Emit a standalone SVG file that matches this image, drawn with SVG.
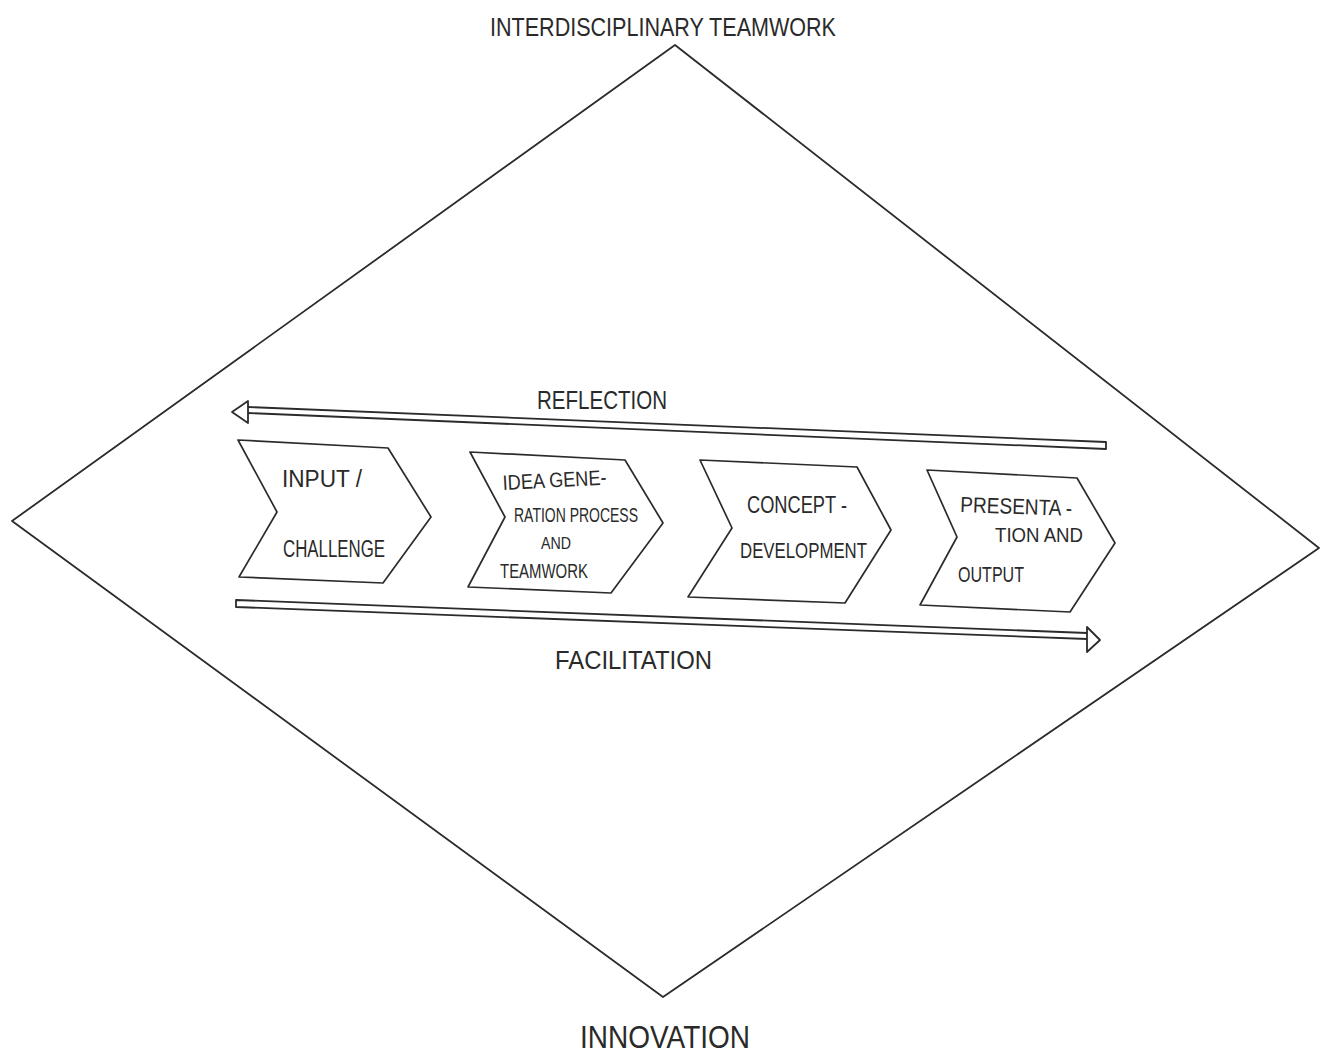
<svg xmlns="http://www.w3.org/2000/svg" width="1324" height="1057" viewBox="0 0 1324 1057">
  <style>
    .ink { fill: none; stroke: #2b2b2b; stroke-width: 1.8; stroke-linejoin: round; stroke-linecap: round; }
    .step { fill: #ffffff; stroke: #2b2b2b; stroke-width: 1.7; stroke-linejoin: round; }
    .head { fill: #ffffff; stroke: #2b2b2b; stroke-width: 1.8; stroke-linejoin: round; }
    .lbl { font-family: "Liberation Sans", Arial, sans-serif; fill: #2a2a2a; }
  </style>
  <rect x="0" y="0" width="1324" height="1057" fill="#ffffff"/>

  <!-- outer frame -->
  <g id="frame">
    <polygon class="ink" points="675,45 1319,548 663,997 12,521"/>
    <text class="lbl" x="490" y="36" font-size="26" textLength="346" lengthAdjust="spacingAndGlyphs">INTERDISCIPLINARY TEAMWORK</text>
    <text class="lbl" x="580" y="1048" font-size="32" textLength="170" lengthAdjust="spacingAndGlyphs">INNOVATION</text>
  </g>

  <!-- process steps -->
  <g id="step-input">
    <polygon class="step" points="238,440 388,448 431,517 383,583 239,577 277,512"/>
    <text class="lbl" x="282" y="487" font-size="23" textLength="80" lengthAdjust="spacingAndGlyphs">INPUT /</text>
    <text class="lbl" x="283" y="557" font-size="23" textLength="102" lengthAdjust="spacingAndGlyphs">CHALLENGE</text>
  </g>

  <g id="step-idea">
    <polygon class="step" points="470,452 625,460 663,523 611,593 468,587 505,517"/>
    <text class="lbl" x="503" y="490" font-size="21" textLength="104" lengthAdjust="spacingAndGlyphs" transform="rotate(-3 503 490)">IDEA GENE-</text>
    <text class="lbl" x="514" y="522" font-size="20" textLength="124" lengthAdjust="spacingAndGlyphs">RATION PROCESS</text>
    <text class="lbl" x="541" y="549" font-size="17" textLength="30" lengthAdjust="spacingAndGlyphs">AND</text>
    <text class="lbl" x="500" y="578" font-size="21" textLength="88" lengthAdjust="spacingAndGlyphs">TEAMWORK</text>
  </g>

  <g id="step-concept">
    <polygon class="step" points="700,460 857,467 891,530 845,603 688,597 732,528"/>
    <text class="lbl" x="747" y="513" font-size="23" textLength="100" lengthAdjust="spacingAndGlyphs">CONCEPT -</text>
    <text class="lbl" x="740" y="558" font-size="22" textLength="127" lengthAdjust="spacingAndGlyphs">DEVELOPMENT</text>
  </g>

  <g id="step-presentation">
    <polygon class="step" points="927,470 1077,478 1115,543 1070,612 920,605 957,537"/>
    <text class="lbl" x="960" y="512" font-size="22" textLength="112" lengthAdjust="spacingAndGlyphs" transform="rotate(2 960 512)">PRESENTA -</text>
    <text class="lbl" x="995" y="542" font-size="20" textLength="88" lengthAdjust="spacingAndGlyphs">TION AND</text>
    <text class="lbl" x="958" y="582" font-size="22" textLength="66" lengthAdjust="spacingAndGlyphs">OUTPUT</text>
  </g>

  <!-- feedback and support bands -->
  <g id="connectors">
    <g id="reflection">
      <path class="ink" d="M248,407 L1106,442 L1106,449 L248,413"/>
      <polygon class="head" points="232,412 248,401 248,423"/>
      <text class="lbl" x="537" y="409" font-size="25" textLength="130" lengthAdjust="spacingAndGlyphs">REFLECTION</text>
    </g>
    <g id="facilitation">
      <path class="ink" d="M1087,633 L236,600 L236,607 L1087,639"/>
      <polygon class="head" points="1100,640 1087,627 1087,652"/>
      <text class="lbl" x="555" y="669" font-size="25" textLength="157" lengthAdjust="spacingAndGlyphs">FACILITATION</text>
    </g>
  </g>
</svg>
